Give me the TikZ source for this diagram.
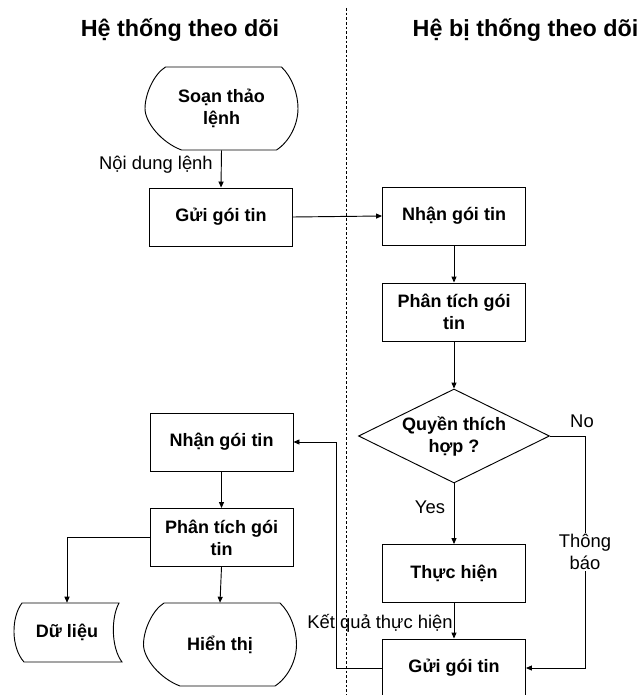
\documentclass[tikz,border=0pt]{standalone}
\usepackage{fontspec}
\setmainfont{Liberation Sans}
\usetikzlibrary{arrows.meta,shapes.geometric}
\newcommand\dispout[1]{\begin{scope}[shift={(#1.center)}]
\draw[outl] (-56,-41.5) -- (60,-41.5) .. controls (71,-31) and (76.5,-14) .. (76.5,0) .. controls (76.5,16) and (68,33) .. (55,41.5) -- (-40,41.5) .. controls (-60,34) and (-76.5,14) .. (-76.5,0) .. controls (-76.5,-14) and (-68,-34) .. (-56,-41.5) -- cycle;
\end{scope}}
\newcommand\storeout[1]{\begin{scope}[shift={(#1.center)}]
\draw[outl] (-45,-29.5) -- (52,-29.5) .. controls (44,-15) and (44,15) .. (55,29.5) -- (-43,29.5) .. controls (-56,15) and (-56,-15) .. (-45,-29.5) -- cycle;
\end{scope}}
\begin{document}
\begin{tikzpicture}[x=0.75pt,y=-0.75pt,
  outl/.style={draw=black,line width=0.7pt},
  arr/.style={draw=black,line width=0.7pt,-{Triangle[length=4.5pt,width=3.8pt]}},
  ln/.style={draw=black,line width=0.7pt},
  bfont/.style={font=\fontsize{13.5}{16.5}\selectfont\bfseries},
  nfont/.style={font=\fontsize{13.8}{16.5}\selectfont},
  box/.style={rectangle,draw=black,line width=0.7pt,minimum width=107.25pt,minimum height=43.5pt,inner sep=0pt,align=center,bfont},
  txt/.style={inner sep=0pt,align=center,bfont},
  lbl/.style={inner sep=0pt,align=center,nfont},
  ttl/.style={inner sep=0pt,anchor=base,font=\fontsize{17.5}{20}\selectfont\bfseries}]
\useasboundingbox (0,0) rectangle (640,695);
% separator
\draw[line width=0.6pt,dash pattern=on 2pt off 1.5pt] (346,8) -- (346,695);
% titles
\node[ttl] (t1) at (180,37) {Hệ thống theo dõi};
\node[ttl] (t2) at (525.5,37) {Hệ bị thống theo dõi};
% left column
\node[txt,minimum width=114.75pt,minimum height=62.25pt] (soan) at (221.5,108.5) {Soạn thảo\\lệnh};
\dispout{soan}
\node[box] (gui1) at (221,217) {Gửi gói tin};
\node[box] (nhan2) at (221.5,442) {Nhận gói tin};
\node[box] (phan2) at (221.5,537.5) {Phân tích gói\\tin};
\node[txt,minimum width=81pt,minimum height=44.25pt] (dulieu) at (67,632.5) {Dữ liệu};
\storeout{dulieu}
\node[txt,minimum width=114.75pt,minimum height=62.25pt] (hien) at (220,644.5) {Hiển thị};
\dispout{hien}
% right column
\node[box] (nhan1) at (454,216) {Nhận gói tin};
\node[box] (phan1) at (454,312) {Phân tích gói\\tin};
\node[diamond,draw=black,line width=0.7pt,aspect=2.03,inner sep=0pt,minimum width=143.25pt,minimum height=70.5pt,align=center,bfont] (quyen) at (454,436) {Quyền thích\\hợp ?};
\node[box] (thuc) at (454,573.5) {Thực hiện};
\node[box] (gui2) at (454,668) {Gửi gói tin};
% connectors
\draw[arr] (soan.south) -- (gui1.north);
\node[lbl,anchor=east] (noidung) at (213,165) {Nội dung lệnh};
\draw[arr] (gui1.east) -- (nhan1.west);
\draw[arr] (nhan1.south) -- (phan1.north);
\draw[arr] (phan1.south) -- (quyen.north);
\draw[arr] (quyen.south) -- (thuc.north);
\node[lbl] (yes) at (430,507) {Yes};
\coordinate (nocorner) at (585,436);
\coordinate (nobot) at (585,668);
\draw[arr] (quyen.east) -- (nocorner) -- (nobot) -- (gui2.east);
\node[lbl] (no) at (582,421) {No};
\node[lbl,fill=white,inner sep=1pt] (thong) at (585,552) {Thông\\báo};
\draw[arr] (thuc.south) -- (gui2.north);
\node[lbl] (ketqua) at (380,623) {Kết quả thực hiện};
\coordinate (lb) at (336,668);
\coordinate (lt) at (336,442);
\draw[arr] (gui2.west) -- (lb) -- (lt) -- (nhan2.east);
\draw[arr] (nhan2.south) -- (phan2.north);
\coordinate (dl) at (67,537.5);
\draw[arr] (phan2.west) -- (dl) -- (dulieu.north);
\draw[arr] (phan2.south) -- (hien.north);
\end{tikzpicture}
\end{document}
